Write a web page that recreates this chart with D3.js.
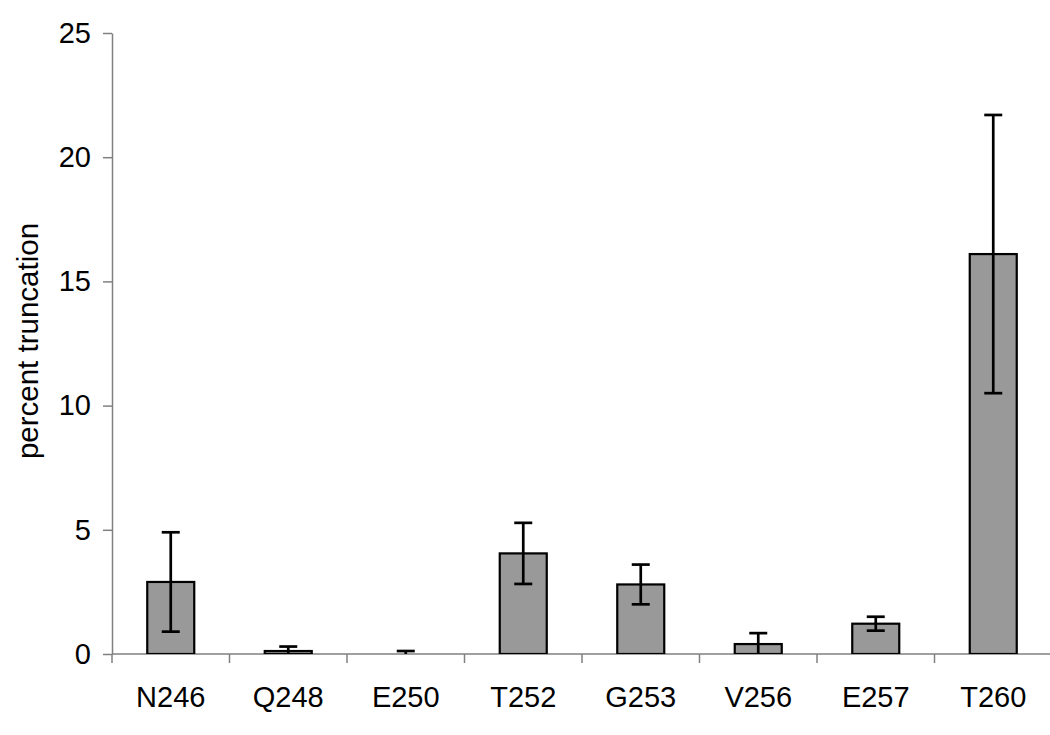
<!DOCTYPE html>
<html>
<head>
<meta charset="utf-8">
<script src="https://cdn.jsdelivr.net/npm/d3@7"></script>
<style>
  html, body { margin: 0; padding: 0; background: #fff; }
  svg { display: block; }
  text { font-family: "Liberation Sans", Arial, sans-serif; fill: #000; }
</style>
</head>
<body>
<svg id="chart" width="1050" height="735"></svg>
<script>
const categories = ["N246", "Q248", "E250", "T252", "G253", "V256", "E257", "T260"];
const values = [2.9, 0.12, 0, 4.05, 2.8, 0.4, 1.22, 16.1];
const errors = [2.0, 0.18, 0.12, 1.23, 0.8, 0.44, 0.28, 5.6];
const yTicks = [0, 5, 10, 15, 20, 25];
const yLabel = "percent truncation";

(function () {
const svg = d3.select("#chart");
const mLeft = 112, mRight = 1052, mTop = 33, mBottom = 654;

const x = d3.scaleBand().domain(categories).range([mLeft, mRight]).paddingInner(0.6).paddingOuter(0.3);
const xStep = d3.scaleBand().domain(categories).range([mLeft, mRight]);
const y = d3.scaleLinear().domain([0, 25]).range([mBottom, mTop]);

const axisColor = "#808080";

svg.append("defs").append("clipPath").attr("id", "plot")
  .append("rect").attr("x", mLeft).attr("y", 0).attr("width", mRight - mLeft).attr("height", mBottom);

// y axis
const yAxis = svg.append("g").attr("transform", `translate(${mLeft},0)`)
  .call(d3.axisLeft(y).tickValues(yTicks).tickSize(9).tickSizeOuter(0).tickPadding(12).tickFormat(d3.format("d")));
yAxis.select(".domain").attr("stroke", axisColor).attr("stroke-width", 1.5);
yAxis.selectAll(".tick line").attr("stroke", axisColor).attr("stroke-width", 1.5);
yAxis.selectAll(".tick text").attr("font-size", 29).attr("font-family", "Liberation Sans, Arial, sans-serif").attr("fill", "#000");

// x axis
const xg = svg.append("g");
xg.append("line").attr("x1", mLeft).attr("x2", mRight).attr("y1", mBottom).attr("y2", mBottom)
  .attr("stroke", axisColor).attr("stroke-width", 1.5);
xg.selectAll("line.xt").data(categories).join("line").attr("class", "xt")
  .attr("x1", d => xStep(d)).attr("x2", d => xStep(d))
  .attr("y1", mBottom).attr("y2", mBottom + 9)
  .attr("stroke", axisColor).attr("stroke-width", 1.5);
xg.selectAll("text").data(categories).join("text")
  .attr("x", d => xStep(d) + xStep.bandwidth() / 2)
  .attr("y", 707)
  .attr("text-anchor", "middle")
  .attr("font-size", 29)
  .text(d => d);

// bars
const data = categories.map((c, i) => ({ c, v: values[i], e: errors[i] }));
const plot = svg.append("g").attr("clip-path", "url(#plot)");
plot.selectAll("rect.bar").data(data.filter(d => d.v > 0)).join("rect").attr("class", "bar")
  .attr("x", d => x(d.c))
  .attr("y", d => y(d.v))
  .attr("width", x.bandwidth())
  .attr("height", d => y(0) - y(d.v))
  .attr("fill", "#999999")
  .attr("stroke", "#000")
  .attr("stroke-width", 2.2);

// error bars
const capW = 9;
const sw = 2.7;
const cx = d => x(d.c) + x.bandwidth() / 2;
const eb = plot.selectAll("g.err").data(data).join("g").attr("class", "err");
eb.append("line")
  .attr("x1", cx).attr("x2", cx)
  .attr("y1", d => y(d.v + d.e)).attr("y2", d => y(d.v - d.e))
  .attr("stroke", "#000").attr("stroke-width", sw);
eb.append("line")
  .attr("x1", d => cx(d) - capW).attr("x2", d => cx(d) + capW)
  .attr("y1", d => y(d.v + d.e)).attr("y2", d => y(d.v + d.e))
  .attr("stroke", "#000").attr("stroke-width", sw);
eb.append("line")
  .attr("x1", d => cx(d) - capW).attr("x2", d => cx(d) + capW)
  .attr("y1", d => y(d.v - d.e)).attr("y2", d => y(d.v - d.e))
  .attr("stroke", "#000").attr("stroke-width", sw);

// y label
svg.append("text")
  .attr("transform", "translate(38,341) rotate(-90)")
  .attr("text-anchor", "middle")
  .attr("font-size", 29.5)
  .text(yLabel);
})();
</script>
</body>
</html>
